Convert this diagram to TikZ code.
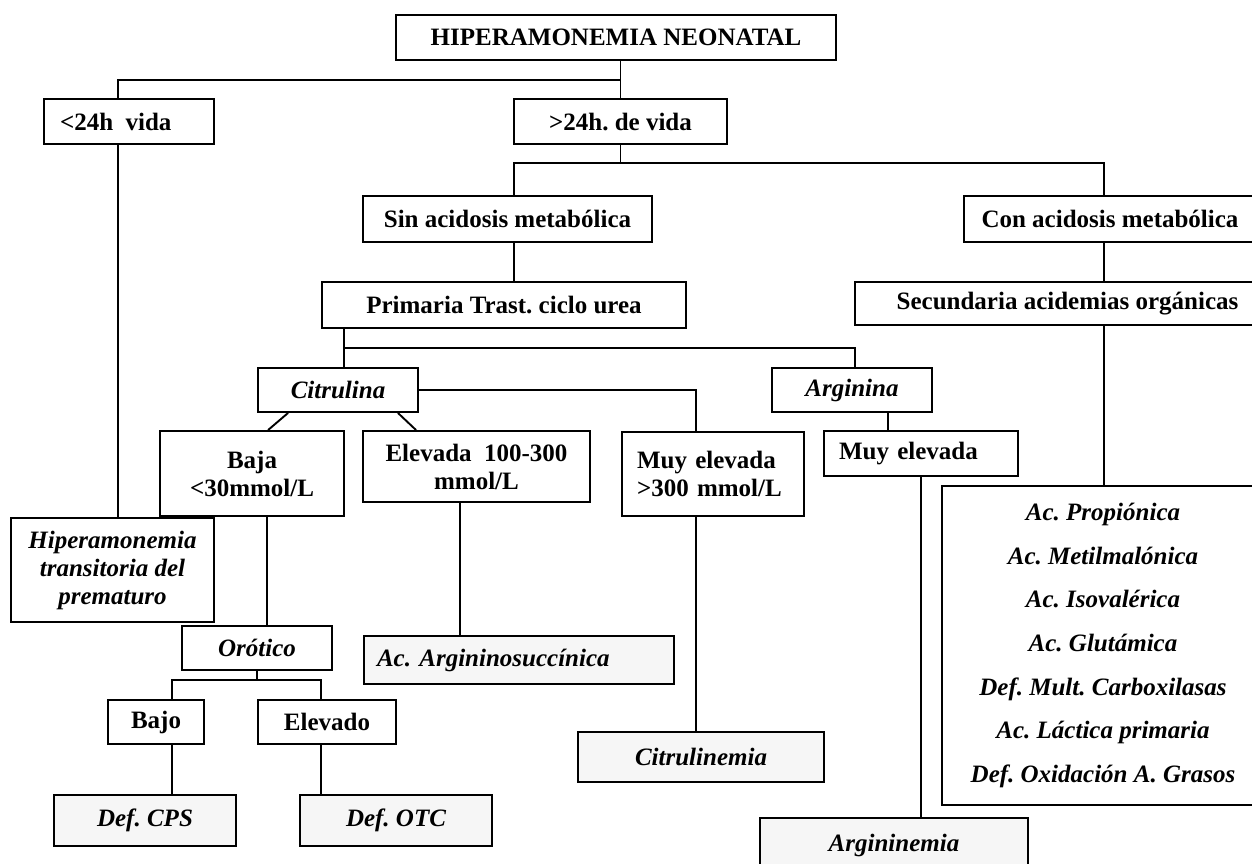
\documentclass[tikz,border=0pt]{standalone}
\usepackage{fontspec}
\setmainfont{Liberation Serif}
\frenchspacing
\definecolor{leafgray}{RGB}{246,246,246}
\newcommand*{\BoxFont}{\fontsize{25}{28}\selectfont\bfseries}
\newcommand*{\ListFont}{\fontsize{25}{43.7}\selectfont\bfseries\itshape}
\tikzset{
    box/.style={draw, inner sep=0pt, align=center, font=\BoxFont},
    itbox/.style={box, font=\BoxFont\itshape},
    leaf/.style={itbox, fill=leafgray},
    lbox/.style={box, align=left, inner xsep=15pt},
}

\begin{document}
\begin{tikzpicture}[x=1pt, y=-1pt, line width=1.9pt]
        \useasboundingbox (0,0) rectangle (1252,863);
        \clip (0,0) rectangle (1252,863);

        % boxes, placed at pixel centres
        \node[box, minimum width=440, minimum height=45] (top) at (616,37.5) {HIPERAMONEMIA NEONATAL};
        \node[lbox, inner xsep=16pt, text width=138, minimum height=45] (lt24) at (129,121.5) {<24h\, vida};
        \node[box, minimum width=213, minimum height=45] (gt24) at (620.5,121.5) {>24h. de vida};
        \node[box, minimum width=289, minimum height=46] (sin) at (507.5,219) {Sin acidosis metabólica};
        \node[box, minimum width=292, minimum height=46] (con) at (1110,219) {Con acidosis metabólica};
        \node[box, minimum width=364, minimum height=46] (prim) at (504,305) {Primaria Trast. ciclo urea};
        \node[box, minimum width=425, minimum height=43] (sec) at (1067.5,303.5) {Secundaria acidemias orgánicas};
        \node[itbox, minimum width=160, minimum height=44] (cit) at (338,390) {Citrulina};
        \node[itbox, minimum width=160, minimum height=44] (arg) at (852,390) {Arginina};
        \node[box, minimum width=184, minimum height=85] (baja) at (252,473.5) {Baja\\<30mmol/L};
        \node[box, minimum width=227, minimum height=71] (elev) at (476.5,466.5) {Elevada~~100-300\\mmol/L};
        \node[lbox, text width=152, minimum height=84] (muycit) at (713,474) {Muy elevada\\>300 mmol/L};
        \node[lbox, text width=164, minimum height=45] (muyarg) at (921,453.5) {Muy elevada};
        \node[itbox, minimum width=203, minimum height=104] (hip) at (112.5,570) {Hiperamonemia\\transitoria del\\prematuro};
        \node[itbox, minimum width=150, minimum height=44] (orot) at (257,648) {Orótico};
        \node[box, minimum width=96, minimum height=44] (bajo) at (156,722) {Bajo};
        \node[box, minimum width=138, minimum height=44] (elevo) at (327,722) {Elevado};
        \node[leaf, align=left, inner xsep=13pt, text width=284, minimum height=48] (argsucc) at (519,660) {Ac. Argininosuccínica};
        \node[leaf, minimum width=246, minimum height=50] (citrul) at (701,757) {Citrulinemia};
        \node[leaf, minimum width=182, minimum height=51] (cps) at (145,820.5) {Def. CPS};
        \node[leaf, minimum width=192, minimum height=51] (otc) at (396,820.5) {Def. OTC};
        \node[leaf, minimum width=268, minimum height=54] (argin) at (894,845) {Argininemia};
        \node[itbox, font=\ListFont, minimum width=322, minimum height=319] (list) at (1103,645.5)
            {Ac. Propiónica\\Ac. Metilmalónica\\Ac. Isovalérica\\Ac. Glutámica\\Def. Mult. Carboxilasas\\Ac. Láctica primaria\\Def. Oxidación A. Grasos};

        % junctions and line positions
        \coordinate (j1) at (118,80);
        \coordinate (j2) at (514,163);
        \coordinate (j3) at (1104,163);
        \coordinate (j4) at (344,348);
        \coordinate (j5) at (855,348);
        \coordinate (j6) at (696,390);
        \coordinate (j8) at (172,680);
        \coordinate (j9) at (321,680);
        \coordinate (xba) at (267,0);
        \coordinate (xel) at (460,0);
        \coordinate (xar) at (888,0);

        \draw (top.south -| gt24) -- (gt24.north);
        \draw (lt24.north -| j1) -- (j1) -- (j1 -| gt24);
        \draw (lt24.south -| j1) -- (hip.north -| j1);
        \draw (gt24.south) -- (gt24.south |- j2);
        \draw (sin.north -| j2) -- (j2) -- (j3) -- (con.north -| j3);
        \draw (sin.south -| j2) -- (prim.north -| j2);
        \draw (con.south -| j3) -- (sec.north -| j3);
        \draw (sec.south -| j3) -- (list.north -| j3);
        \draw (prim.south -| j4) -- (cit.north -| j4);
        \draw (j4) -- (j5) -- (arg.north -| j5);
        \draw ([xshift=31pt]cit.south west) -- ([xshift=109pt]baja.north west);
        \draw ([xshift=-21pt]cit.south east) -- ([xshift=54pt]elev.north west);
        \draw (cit.east) -- (j6) -- (muycit.north -| j6);
        \draw (muycit.south -| j6) -- (citrul.north -| j6);
        \draw (baja.south -| xba) -- (orot.north -| xba);
        \draw (elev.south -| xel) -- (argsucc.north -| xel);
        \draw (orot.south) -- (orot.south |- j8);
        \draw (bajo.north -| j8) -- (j8) -- (j9) -- (elevo.north -| j9);
        \draw (bajo.south -| j8) -- (cps.north -| j8);
        \draw (elevo.south -| j9) -- (otc.north -| j9);
        \draw (arg.south -| xar) -- (muyarg.north -| xar);
        \draw (muyarg.south) -- (muyarg.south |- argin.north);
\end{tikzpicture}
\end{document}
